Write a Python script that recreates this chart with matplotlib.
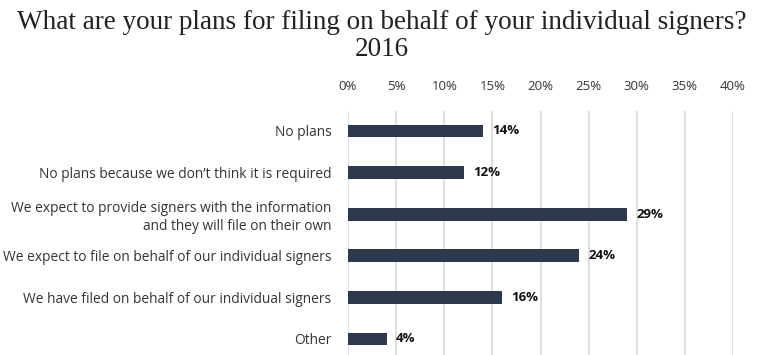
import matplotlib
matplotlib.use('Agg')
import matplotlib.pyplot as plt
import numpy as np

categories = [
    'No plans',
    'No plans because we don\u2019t think it is required',
    'We expect to provide signers with the information\nand they will file on their own',
    'We expect to file on behalf of our individual signers',
    'We have filed on behalf of our individual signers',
    'Other',
]
shares = [14, 12, 29, 24, 16, 4]
ticks = [0, 5, 10, 15, 20, 25, 30, 35, 40]

bar_color = '#2d3a4d'
grid_color = '#d9d9d9'
text_color = '#333333'

fig = plt.figure(figsize=(7.6, 3.55), dpi=100)
ax = fig.add_axes([348 / 760, 0, 385 / 760, 244 / 355])

y = np.arange(len(categories))
ax.barh(y, shares, height=0.31, color=bar_color, zorder=3)

for yi, v in zip(y, shares):
    ax.text(v + 1.0, yi, f'{v}%', va='center', ha='left', fontsize=9.5,
            fontweight='bold', family='Open Sans', color='#111111')

ax.set_xlim(0, 40)
ax.set_ylim(5.385, -0.48)
ax.set_xticks(ticks)
ax.set_xticklabels([f'{t}%' for t in ticks], family='Open Sans', fontsize=9.5, color=text_color)
ax.xaxis.tick_top()
ax.tick_params(axis='x', length=0, pad=13)
ax.set_yticks(y)
ax.set_yticklabels(categories, family='Open Sans', fontsize=9.9, color=text_color, linespacing=1.3)
ax.tick_params(axis='y', length=0, pad=12)

ax.grid(axis='x', color=grid_color, linewidth=1.2, zorder=0)
for s in ax.spines.values():
    s.set_visible(False)

fig.text(0.502, 0.972, 'What are your plans for filing on behalf of your individual signers?\n2016',
         ha='center', va='top', fontsize=19.5, family='Liberation Serif', color='#222222',
         linespacing=1.1)

fig.savefig('out.png', dpi=100)
